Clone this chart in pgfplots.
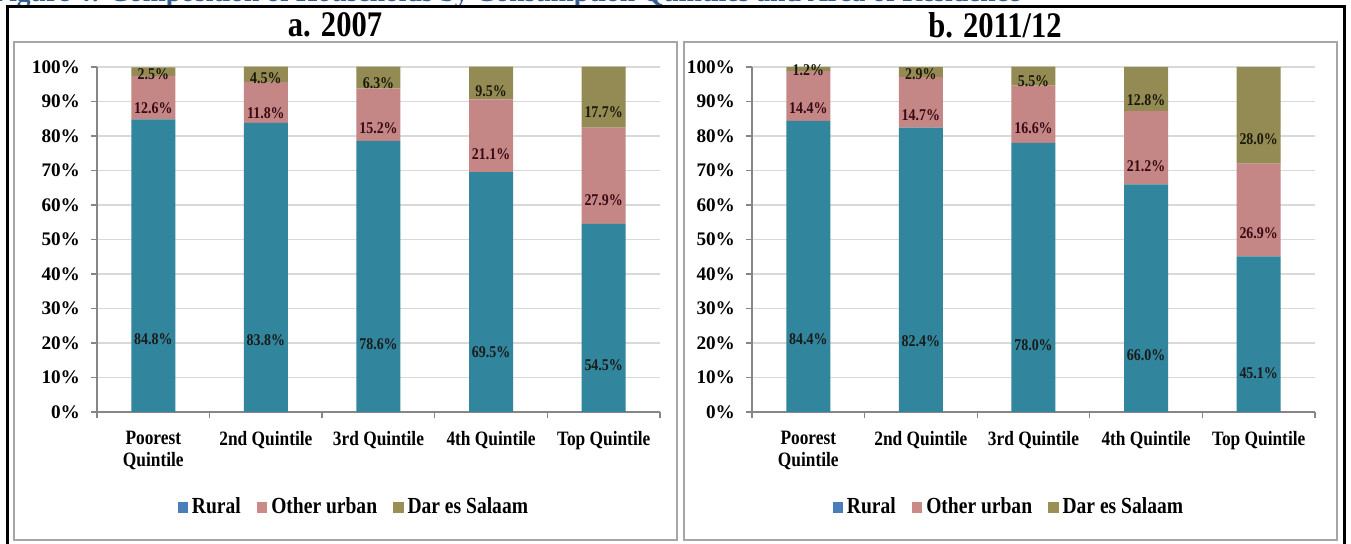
\documentclass[border=0pt]{standalone}
\usepackage{fontspec}
\setmainfont{Liberation Serif}
\newfontfamily\cond[FakeStretch=0.85]{Liberation Serif}
\usepackage{pgfplots}
\usepackage{pgfplotstable}
\pgfplotsset{compat=1.18}
\definecolor{cRural}{HTML}{31859C}
\definecolor{cOther}{HTML}{C48786}
\definecolor{cDar}{HTML}{948A54}
\definecolor{lRural}{HTML}{4A7EBB}
\definecolor{lOther}{HTML}{C98A88}
\definecolor{lDar}{HTML}{9A8F55}
\definecolor{gridc}{HTML}{D9D9D9}
\definecolor{axc}{HTML}{868686}
\definecolor{ttl}{HTML}{365F91}
\definecolor{labR}{HTML}{1A1A1A}
\definecolor{labO}{HTML}{3A0A14}
\definecolor{labD}{HTML}{1A1A0A}

\pgfplotstableread{
x r o d
0 84.8 12.6 2.5
1 83.8 11.8 4.5
2 78.6 15.2 6.3
3 69.5 21.1 9.5
4 54.5 27.9 17.7
}\tabA
\pgfplotstableread{
x r o d
0 84.4 14.4 1.2
1 82.4 14.7 2.9
2 78.0 16.6 5.5
3 66.0 21.2 12.8
4 45.1 26.9 28.0
}\tabB

\pgfplotsset{
  mystyle/.style={
    scale only axis, width=281.5pt, height=172.5pt,
    ybar stacked, bar width=22pt,
    xmin=-0.5, xmax=4.5, ymin=0, ymax=100,
    enlargelimits=false, clip=false,
    axis x line*=bottom, axis y line*=left,
    axis line style={axc, line width=0.7pt, -},
    tick align=outside, major tick length=3pt,
    tick style={axc, line width=0.7pt},
    ytick={0,10,...,100},
    yticklabel={\pgfmathprintnumber{\tick}\%},
    yticklabel style={font=\bfseries\fontsize{9.6}{10}\selectfont, /pgf/number format/assume math mode=true, xshift=-2pt, text=black},
    ymajorgrids, grid style={gridc, line width=0.7pt},
    xtick={-0.5,0.5,1.5,2.5,3.5,4.5},
    x tick label as interval,
    xticklabels={{Poorest\\Quintile},{2nd Quintile},{3rd Quintile},{4th Quintile},{Top Quintile}},
    xticklabel style={font=\cond\bfseries\fontsize{10.2}{11}\selectfont, align=center, yshift=-3pt, text=black},
    legend style={at={(0.458,-0.276)}, anchor=center, draw=none, fill=none, legend columns=3,
      font=\cond\bfseries\fontsize{11.5}{12}\selectfont,
      /tikz/every even column/.append style={column sep=6pt}},
  }
}

\newcommand\barplot[4]{%
  \addplot[fill=#3, draw=none, forget plot, point meta=explicit,
    nodes near coords={\pgfmathprintnumber[fixed,fixed zerofill,precision=1,assume math mode=true]{\pgfplotspointmeta}\%},
    visualization depends on={\thisrow{#2} \as \rawy},
    every node near coord/.append style={anchor=center, yshift=-\rawy*0.43125pt,
      font=\cond\bfseries\fontsize{8.2}{9}\selectfont, text=#4, inner sep=0pt}]
    table[x=x, y=#2, meta=#2]{#1};
}
\newcommand\legs{%
  \addlegendimage{legend image code/.code={\fill[lRural] (0pt,-2.4pt) rectangle (4.8pt,2.4pt);}}
  \addlegendentry{Rural}
  \addlegendimage{legend image code/.code={\fill[lOther] (0pt,-2.4pt) rectangle (4.8pt,2.4pt);}}
  \addlegendentry{Other urban}
  \addlegendimage{legend image code/.code={\fill[lDar] (0pt,-2.4pt) rectangle (4.8pt,2.4pt);}}
  \addlegendentry{Dar es Salaam}
}

\begin{document}
\begin{tikzpicture}
\path[use as bounding box, clip] (0pt,0pt) rectangle (675.5pt,-272pt);
\begin{scope}[x=0.5pt, y=-0.5pt]
  \node[anchor=base west, font=\bfseries\fontsize{13.8}{15}\selectfont, text=ttl, inner sep=0pt] at (-8,2)
    {Figure 4: Composition of Households by Consumption Quintiles and Area of Residence};
  \fill[white] (0,6) rectangle (1351,544);
  \draw[black, line width=1.5pt] (7,7) rectangle (1344,560);
  \draw[black!35, line width=1pt] (14,42) rectangle (677,540);
  \draw[black!35, line width=1pt] (684,42) rectangle (1337,540);
  \node[font=\cond\bfseries\fontsize{18}{20}\selectfont] at (335,25) {a. 2007};
  \node[font=\cond\bfseries\fontsize{18}{20}\selectfont] at (995,25) {b. 2011/12};
\end{scope}

\begin{axis}[mystyle, at={(48.5pt,-206pt)}, anchor=south west]
  \barplot{\tabA}{r}{cRural}{labR}
  \barplot{\tabA}{o}{cOther}{labO}
  \barplot{\tabA}{d}{cDar}{labD}
  \legs
\end{axis}

\begin{axis}[mystyle, at={(376pt,-206pt)}, anchor=south west]
  \barplot{\tabB}{r}{cRural}{labR}
  \barplot{\tabB}{o}{cOther}{labO}
  \barplot{\tabB}{d}{cDar}{labD}
  \legs
\end{axis}
\end{tikzpicture}
\end{document}
